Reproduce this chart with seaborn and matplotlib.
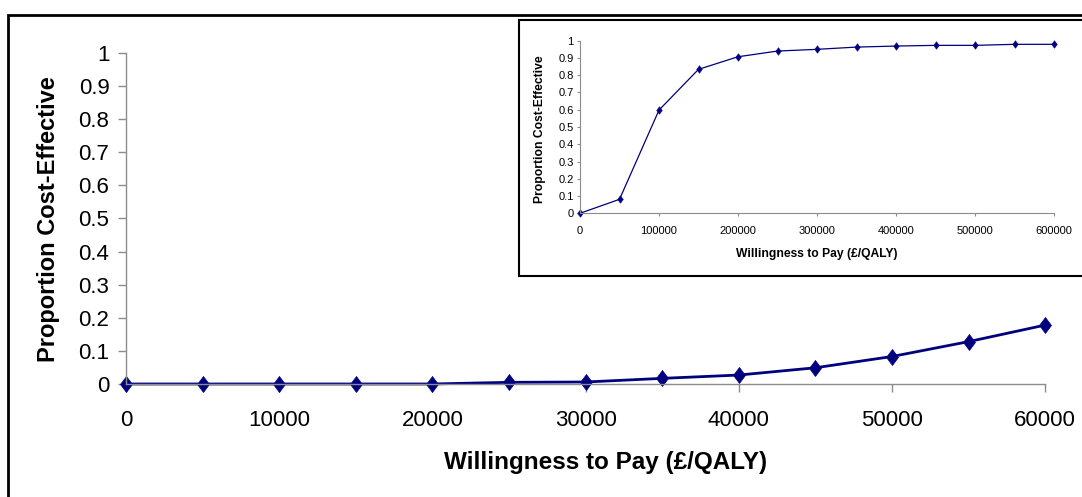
import numpy as np
import pandas as pd
import seaborn as sns
import matplotlib.pyplot as plt
from matplotlib.patches import Rectangle

# Datos principales (0 - 60000)
wtp_main = [0, 5000, 10000, 15000, 20000, 25000, 30000, 35000, 40000, 45000, 50000, 55000, 60000]
prop_main = [0, 0, 0, 0, 0, 0.005, 0.006, 0.017, 0.027, 0.049, 0.083, 0.128, 0.178]

# Datos del recuadro (0 - 600000)
wtp_inset = [0, 50000, 100000, 150000, 200000, 250000, 300000, 350000, 400000, 450000, 500000, 550000, 600000]
prop_inset = [0, 0.081, 0.598, 0.834, 0.907, 0.940, 0.950, 0.963, 0.969, 0.973, 0.973, 0.979, 0.979]

y_ticks = [0, 0.1, 0.2, 0.3, 0.4, 0.5, 0.6, 0.7, 0.8, 0.9, 1]
y_tick_labels = ["0", "0.1", "0.2", "0.3", "0.4", "0.5", "0.6", "0.7", "0.8", "0.9", "1"]

x_label = "Willingness to Pay (£/QALY)"
y_label = "Proportion Cost-Effective"

df_main = pd.DataFrame({"wtp": wtp_main, "prop": prop_main})
df_inset = pd.DataFrame({"wtp": wtp_inset, "prop": prop_inset})

sns.set_style("ticks")
plt.rcParams['font.family'] = ['Liberation Sans', 'DejaVu Sans']
plt.rcParams['text.color'] = "black"
plt.rcParams['axes.labelcolor'] = "black"
plt.rcParams['xtick.labelcolor'] = "black"
plt.rcParams['ytick.labelcolor'] = "black"

navy = "#00007f"
grey = "#8c8c8c"
diamond = [(0, 1), (0.75, 0), (0, -1), (-0.75, 0), (0, 1)]

fig = plt.figure(figsize=(10.82, 4.97), dpi=100)

# Marco exterior
fig.patches.append(Rectangle((0.0074, -0.05), 1.1, 0.9698 + 0.05, transform=fig.transFigure,
                             fill=False, edgecolor="black", linewidth=2, zorder=0))

# -------------Gráfico principal-------------
ax = fig.add_axes([0.1165, 0.2274, 0.966 - 0.1165, 0.8934 - 0.2274])
sns.lineplot(data=df_main, x="wtp", y="prop", ax=ax, color=navy, linewidth=2,
             marker=diamond, markersize=11.5, markeredgecolor=navy, markeredgewidth=0.5)
for l in ax.lines:
    l.set_clip_on(False)
ax.set_xlim(0, 60000)
ax.set_ylim(0, 1)
ax.set_xticks(np.arange(0, 60001, 10000))
ax.set_yticks(y_ticks)
ax.set_yticklabels(y_tick_labels)
ax.tick_params(axis="both", direction="out", length=5.5, width=1, color=grey, labelsize=16)
ax.tick_params(axis="x", pad=13)
ax.tick_params(axis="y", pad=6.5)
ax.set_xlabel(x_label, fontsize=17.5, fontweight="bold", va="baseline")
ax.xaxis.set_label_coords((605 - 126) / 919, (384 - 469) / 331)
ax.set_ylabel(y_label, fontsize=17, fontweight="bold")
ax.yaxis.set_label_coords((60 - 126) / 919, (384 - 219) / 331)
sns.despine(ax=ax)
for s in ["left", "bottom"]:
    ax.spines[s].set_color(grey)
    ax.spines[s].set_linewidth(1)
ax.patch.set_alpha(0)

# -------------Recuadro-------------
fig.patches.append(Rectangle((519 / 1082, 1 - 276 / 497), 0.6, (276 - 20) / 497,
                             transform=fig.transFigure, facecolor="white",
                             edgecolor="black", linewidth=1.5, zorder=2))
ax2 = fig.add_axes([580 / 1082, 1 - 213.3 / 497, (1054 - 580) / 1082, (213.3 - 40.7) / 497])
ax2.set_zorder(3)
sns.lineplot(data=df_inset, x="wtp", y="prop", ax=ax2, color=navy, linewidth=0.9,
             marker=diamond, markersize=5.5, markeredgecolor=navy, markeredgewidth=0.3)
for l in ax2.lines:
    l.set_clip_on(False)
ax2.set_xlim(0, 600000)
ax2.set_ylim(0, 1)
ax2.set_xticks(np.arange(0, 600001, 100000))
ax2.set_yticks(y_ticks)
ax2.set_yticklabels(y_tick_labels)
ax2.tick_params(axis="both", direction="out", length=2.5, width=0.8, color=grey, labelsize=8)
ax2.tick_params(axis="x", pad=6.5)
ax2.tick_params(axis="y", pad=2)
ax2.set_xlabel(x_label, fontsize=8.7, fontweight="bold", va="baseline")
ax2.xaxis.set_label_coords(0.5, (213.3 - 257) / 172.6)
ax2.set_ylabel(y_label, fontsize=8.7, fontweight="bold")
ax2.yaxis.set_label_coords((546 - 580) / 474, 0.49)
sns.despine(ax=ax2)
for s in ["left", "bottom"]:
    ax2.spines[s].set_color(grey)
    ax2.spines[s].set_linewidth(0.8)
ax2.patch.set_alpha(0)

plt.savefig("out.png", dpi=100)
